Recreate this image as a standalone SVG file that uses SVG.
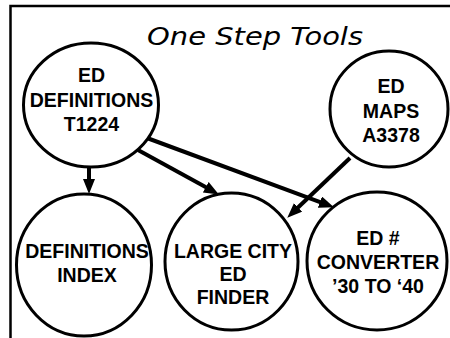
<svg xmlns="http://www.w3.org/2000/svg" width="450" height="338" viewBox="0 0 450 338">
<style>
.node{fill:#fff;stroke:#000;stroke-width:3}
.lbl{font-family:"Liberation Sans",Arial,sans-serif;font-weight:bold;font-size:19.5px;text-anchor:middle;fill:#000}
.title{font-family:"DejaVu Sans",Verdana,sans-serif;font-style:italic;font-size:25px;fill:#000}
.conn{stroke:#000;stroke-width:4;fill:none}
</style>
<defs>
<marker id="ah" markerUnits="userSpaceOnUse" markerWidth="16" markerHeight="14" refX="6" refY="6" orient="auto">
<path d="M0,0 L15,6 L0,12 z" fill="#000"/>
</marker>
</defs>
<rect x="10.5" y="6" width="460" height="360" fill="none" stroke="#000" stroke-width="2.5"/>
<text class="title" x="147" y="45" textLength="216" lengthAdjust="spacingAndGlyphs">One Step Tools</text>
<g id="connectors">
<line class="conn" x1="89" y1="168" x2="89" y2="185" marker-end="url(#ah)"/>
<line class="conn" x1="138" y1="150" x2="211" y2="190.1" marker-end="url(#ah)"/>
<line class="conn" x1="147" y1="138" x2="325.5" y2="204.2" marker-end="url(#ah)"/>
<line class="conn" x1="350" y1="158" x2="293.8" y2="211.5" marker-end="url(#ah)"/>
</g>
<g id="ed-definitions">
<ellipse class="node" cx="91" cy="105" rx="67.5" ry="62"/>
<text class="lbl" x="91.5" y="82">ED</text>
<text class="lbl" x="91.5" y="107">DEFINITIONS</text>
<text class="lbl" x="91.5" y="131">T1224</text>
</g>
<g id="ed-maps">
<ellipse class="node" cx="389" cy="109" rx="59" ry="58"/>
<text class="lbl" x="391" y="93">ED</text>
<text class="lbl" x="391" y="118">MAPS</text>
<text class="lbl" x="391" y="142">A3378</text>
</g>
<g id="definitions-index">
<ellipse class="node" cx="84" cy="265" rx="67.5" ry="71"/>
<text class="lbl" x="87" y="258">DEFINITIONS</text>
<text class="lbl" x="87" y="282">INDEX</text>
</g>
<g id="large-city">
<ellipse class="node" cx="231.5" cy="261.5" rx="66.5" ry="68.5"/>
<text class="lbl" x="233" y="258">LARGE CITY</text>
<text class="lbl" x="233" y="281">ED</text>
<text class="lbl" x="233" y="304">FINDER</text>
</g>
<g id="ed-converter">
<ellipse class="node" cx="377" cy="261" rx="70" ry="69"/>
<text class="lbl" x="378" y="245">ED #</text>
<text class="lbl" x="378" y="269">CONVERTER</text>
<text class="lbl" x="378" y="293">’30 TO ‘40</text>
</g>
</svg>
